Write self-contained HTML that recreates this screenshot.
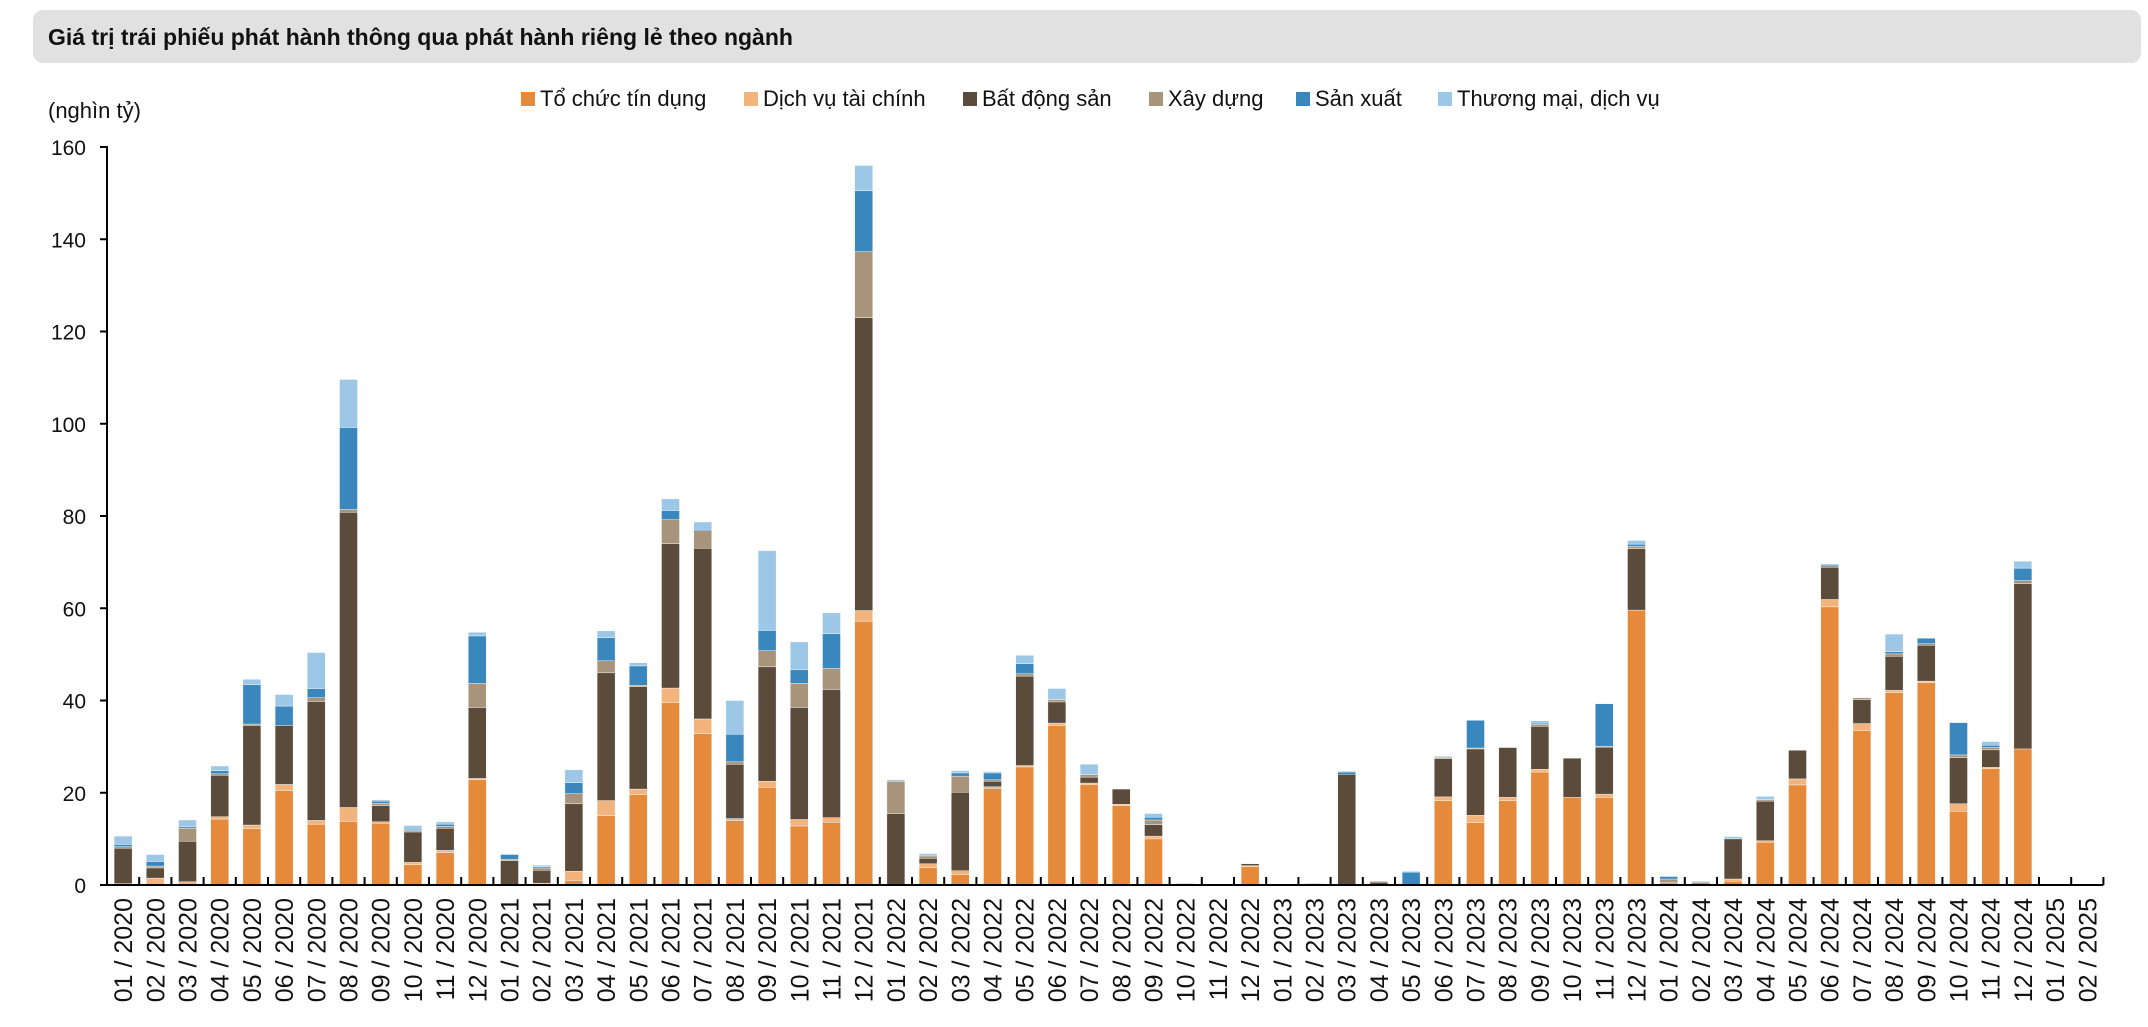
<!DOCTYPE html>
<html><head><meta charset="utf-8">
<style>
html,body{margin:0;padding:0;background:#fff;}
body{width:2148px;height:1022px;overflow:hidden;font-family:"Liberation Sans",sans-serif;}
</style></head>
<body>
<svg id="c" width="2148" height="1022" xmlns="http://www.w3.org/2000/svg" font-family="Liberation Sans, sans-serif">
<rect x="33" y="10" width="2108" height="53" rx="10" fill="#e1e1e1"/>
<text x="48" y="45" font-size="23" font-weight="bold" fill="#111">Giá trị trái phiếu phát hành thông qua phát hành riêng lẻ theo ngành</text>
<text x="48" y="118" font-size="22" fill="#111">(nghìn tỷ)</text>
<g id="g"></g>
</svg>
<script>
var ns="http://www.w3.org/2000/svg",g=document.getElementById('g');
function el(t,a,txt){var e=document.createElementNS(ns,t);for(var k in a)e.setAttribute(k,a[k]);if(txt!=null)e.textContent=txt;g.appendChild(e);return e;}
var cols=["#E5893B","#F2B47C","#5B4B3A","#A8937B","#3A87BD","#9CC7E6"];
var names=["Tổ chức tín dụng","Dịch vụ tài chính","Bất động sản","Xây dựng","Sản xuất","Thương mại, dịch vụ"];
var lx=[521,744,963,1149,1296,1438];
for(var i=0;i<6;i++){el('rect',{x:lx[i],y:92,width:14,height:14,fill:cols[i]});el('text',{x:lx[i]+19,y:106,'font-size':22,fill:'#111'},names[i]);}
var D=[
[0.3,0,7.7,0.3,0.5,1.8],[0,1.5,2.2,0.4,1,1.5],[0,0.7,8.8,2.8,0.3,1.5],[14.3,0.5,9,0.3,0.7,1],
[12.2,0.8,21.6,0.3,8.5,1.2],[20.5,1.3,12.8,0,4.2,2.5],[13.2,0.8,25.8,0.8,2,7.8],[13.8,3,64,0.6,17.8,10.4],
[13.4,0.3,3.5,0.5,0.5,0.3],[4.4,0.5,6.6,0.3,0.3,0.8],[7,0.5,4.8,0.4,0.5,0.5],[22.8,0.3,15.4,5.2,10.3,0.8],
[0,0,5.3,0.3,1,0.2],[0,0.4,2.8,0.5,0.3,0.3],[1,2,14.6,2.2,2.4,2.8],[15,3.3,27.7,2.6,5,1.5],
[19.6,1.2,22.2,0.3,4.2,0.7],[39.5,3.2,31.3,5.2,2,2.5],[32.8,3.2,37,3.8,0.3,1.6],[14,0.4,11.8,0.5,6,7.3],
[21.2,1.3,24.8,3.5,4.4,17.3],[12.8,1.4,24.3,5.2,3,6],[13.6,1,27.8,4.6,7.5,4.5],[57.2,2.3,63.5,14.3,13.2,5.5],
[0,0,15.5,7,0,0.3],[3.8,0.8,1.2,0.5,0,0.5],[2.3,0.8,17,3.5,0.7,0.5],[21,0.3,1.2,0.3,1.5,0.3],
[25.6,0.3,19.4,0.5,2.2,1.8],[34.6,0.5,4.6,0.5,0,2.4],[21.8,0.3,1.3,0.5,0,2.3],[17.2,0.3,3.3,0,0,0],
[10,0.6,2.5,1,0.6,0.8],[0,0,0.3,0,0,0],[0,0,0.2,0,0,0],[4,0.2,0.4,0,0,0],
[0,0,0.1,0,0,0],[0,0,0.3,0,0,0],[0,0,24,0,0.5,0.2],[0,0,0.6,0.2,0,0],
[0,0,0,0,2.8,0.2],[18.3,0.8,8.3,0.3,0,0.2],[13.5,1.6,14.4,0.2,6,0],[18.3,0.7,10.8,0,0,0],
[24.5,0.6,9.3,0.4,0.3,0.5],[19,0,8.5,0,0,0],[19,0.7,10.2,0.2,9.2,0],[59.6,0,13.3,0.5,0.5,0.8],
[0.3,0,0.2,0.8,0.5,0.2],[0,0,0,0.6,0,0.2],[0.8,0.5,8.7,0,0,0.5],[9.3,0.3,8.6,0.3,0,0.7],
[21.7,1.3,6.2,0,0,0],[60.3,1.6,7,0.3,0.3,0],[33.5,1.5,5.2,0.4,0,0],[41.7,0.5,7.4,0.5,0.5,3.8],
[43.9,0.3,7.8,0.3,1.2,0],[16,1.6,10,0.6,7,0],[25.2,0.3,3.8,0.5,0.5,0.8],[29.5,0,35.8,0.7,2.7,1.5],
[0,0,0,0,0,0],[0,0,0,0,0,0]];
var x0=107,w=32.2,y0=885,k=(885-147)/160,n=62,x1=x0+n*w;
el('line',{x1:x0,y1:146,x2:x0,y2:y0,stroke:'#000','stroke-width':2});
for(var v=0;v<=160;v+=20){var y=y0-v*k;el('line',{x1:x0-7,y1:y,x2:x0,y2:y,stroke:'#000','stroke-width':2});
el('text',{x:86,y:y+8,'font-size':21,'text-anchor':'end',fill:'#111'},v);}
for(var i=0;i<n;i++){var cx=x0+(i+0.5)*w,acc=0;
 for(var s=0;s<6;s++){var h=D[i][s];if(h<=0)continue;
  el('rect',{x:cx-9,y:y0-(acc+h)*k,width:18,height:h*k,fill:cols[s],stroke:'#fff','stroke-width':0.4});acc+=h;}
 var m=(i%12)+1,yr=2020+Math.floor(i/12);
 var lab=(m<10?'0':'')+m+' / '+yr;
 el('text',{x:0,y:0,'font-size':25,fill:'#111','text-anchor':'end',transform:'translate('+(cx+9)+',898) rotate(-90)'},lab);
}
for(var i=0;i<=n;i++){var xx=x0+i*w;el('line',{x1:xx,y1:y0,x2:xx,y2:y0-8,stroke:'#000','stroke-width':2});}
el('line',{x1:x0,y1:y0,x2:x1,y2:y0,stroke:'#000','stroke-width':2});
</script>
</body></html>
